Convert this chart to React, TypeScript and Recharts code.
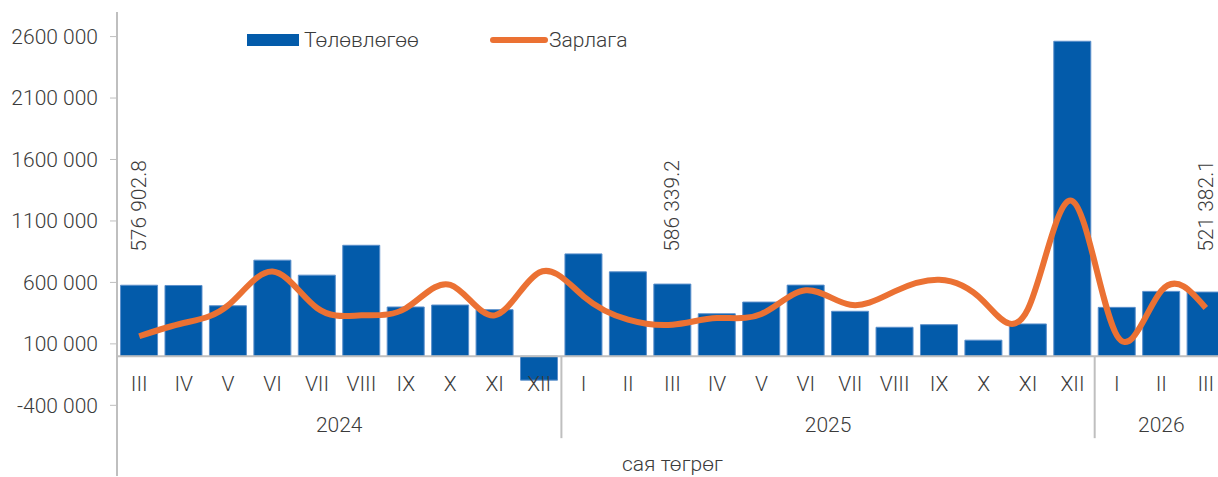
import React from "react";
import {
  ComposedChart,
  Bar,
  Line,
  XAxis,
  YAxis,
  ReferenceLine,
  LabelList,
} from "recharts";

const months = [
  "III", "IV", "V", "VI", "VII", "VIII", "IX", "X", "XI", "XII",
  "I", "II", "III", "IV", "V", "VI", "VII", "VIII", "IX", "X", "XI", "XII",
  "I", "II", "III",
];
const years = ["2024", "2025", "2026"];
const yearSizes = [10, 12, 3];

const plan = [
  576902.8, 575000, 410000, 781000, 659000, 902000, 400000, 416000, 378000, -195000,
  832000, 686000, 586339.2, 345000, 440000, 578000, 365000, 235000, 256000, 130000, 262000, 2562000,
  397000, 527000, 521382.1,
];
const spend = [
  162000, 270000, 413000, 689000, 392000, 332000, 390000, 580000, 332000, 681000,
  486000, 297000, 256000, 310000, 343000, 536000, 418000, 527000, 621000, 446000, 385000, 1262000,
  168000, 532000, 392000,
];
const planLabels = [
  "576 902.8", "", "", "", "", "", "", "", "", "",
  "", "", "586 339.2", "", "", "", "", "", "", "", "", "",
  "", "", "521 382.1",
];
const yTicks = [-400000, 100000, 600000, 1100000, 1600000, 2100000, 2600000];

const data = months.map((m, i) => ({
  m,
  plan: plan[i],
  spend: spend[i],
  label: planLabels[i],
}));

const CHART_W = 1240;
const CHART_H = 477;
const LEFT = 117;
const RIGHT = 12;
const TOP = 12;
const X_H = 1;
const Y_MIN = -975000;
const Y_MAX = 2800000;
const PLOT_H = CHART_H - TOP - X_H;
const ZERO_Y = TOP + (PLOT_H * Y_MAX) / (Y_MAX - Y_MIN);
const BAND = (CHART_W - LEFT - RIGHT) / months.length;

const FONT = "Roboto, 'Noto Sans', sans-serif";
const FS = 21;
const TEXT = "#3b3b3b";
const AXIS = "#bfbfbf";
const BLUE = "#035BAA";
const ORANGE = "#EB7133";

const groupStart: Record<number, number> = {};
{
  let s = 0;
  yearSizes.forEach((n, g) => {
    groupStart[s] = g;
    s += n;
  });
}

const MonthTick = (props: any) => {
  const { x, index, payload } = props;
  const g = groupStart[index];
  return (
    <g>
      <text
        x={x}
        y={ZERO_Y + 35}
        textAnchor="middle"
        fontFamily={FONT}
        fontSize={FS}
        fontWeight={300}
        fill={TEXT}
      >
        {payload.value}
      </text>
      {g !== undefined && (
        <text
          x={x + ((yearSizes[g] - 1) * BAND) / 2}
          y={ZERO_Y + 76}
          textAnchor="middle"
          fontFamily={FONT}
          fontSize={FS}
          fontWeight={300}
          fill={TEXT}
        >
          {years[g]}
        </text>
      )}
      {g !== undefined && g > 0 && (
        <line
          x1={x - BAND / 2}
          x2={x - BAND / 2}
          y1={ZERO_Y}
          y2={ZERO_Y + 82}
          stroke={AXIS}
          strokeWidth={2}
        />
      )}
    </g>
  );
};

const PlanLabel = (props: any) => {
  const { x, width, value } = props;
  if (!value) return null;
  const cx = x + width / 2;
  const cy = 206;
  return (
    <text
      x={cx}
      y={cy}
      transform={`rotate(-90 ${cx} ${cy})`}
      textAnchor="middle"
      dominantBaseline="central"
      fontFamily={FONT}
      fontSize={FS}
      fontWeight={300}
      fill={TEXT}
    >
      {value}
    </text>
  );
};

const ChartLegend = () => (
  <svg
    width={420}
    height={30}
    style={{ position: "absolute", left: 247, top: 25 }}
  >
    <rect x={0} y={9} width={52} height={12} fill={BLUE} />
    <text x={57} y={15} dominantBaseline="central" fontFamily={FONT} fontSize={FS} fontWeight={300} fill={TEXT}>
      Төлөвлөгөө
    </text>
    <line x1={246} x2={298} y1={15} y2={15} stroke={ORANGE} strokeWidth={6} strokeLinecap="round" />
    <text x={302} y={15} dominantBaseline="central" fontFamily={FONT} fontSize={FS} fontWeight={300} fill={TEXT}>
      Зарлага
    </text>
  </svg>
);

export default function App() {
  return (
    <div
      style={{
        position: "absolute",
        left: 0,
        top: 0,
        width: 1218,
        height: 477,
        overflow: "hidden",
        background: "#fff",
      }}
    >
      <ComposedChart
        width={CHART_W}
        height={CHART_H}
        data={data}
        margin={{ top: TOP, right: RIGHT, left: 0, bottom: 0 }}
        barCategoryGap="8%"
      >
        <XAxis
          dataKey="m"
          height={X_H}
          axisLine={false}
          tickLine={false}
          interval={0}
          tick={<MonthTick />}
        />
        <YAxis
          width={LEFT}
          domain={[Y_MIN, Y_MAX]}
          ticks={yTicks}
          allowDataOverflow
          axisLine={{ stroke: AXIS, strokeWidth: 2 }}
          tickLine={{ stroke: AXIS, strokeWidth: 1 }}
          tickSize={7}
          tickMargin={12}
          tickFormatter={(v: number) => `${v / 1000} 000`}
          tick={{ fontFamily: FONT, fontSize: FS, fontWeight: 300, fill: TEXT }}
        />
        <Bar dataKey="plan" name="Төлөвлөгөө" fill={BLUE} stroke="#5b8fcb" strokeWidth={1} isAnimationActive={false}>
          <LabelList dataKey="label" content={<PlanLabel />} />
        </Bar>
        <ReferenceLine y={0} stroke={AXIS} strokeWidth={2} />
        <Line
          dataKey="spend"
          name="Зарлага"
          type="natural"
          stroke={ORANGE}
          strokeWidth={6}
          dot={false}
          activeDot={false}
          isAnimationActive={false}
        />
      </ComposedChart>
      <ChartLegend />
      <div
        style={{
          position: "absolute",
          left: LEFT,
          width: CHART_W - LEFT - RIGHT,
          top: 454,
          textAlign: "center",
          fontFamily: FONT,
          fontSize: FS,
          fontWeight: 300,
          color: TEXT,
          lineHeight: "21px",
        }}
      >
        сая төгрөг
      </div>
    </div>
  );
}
